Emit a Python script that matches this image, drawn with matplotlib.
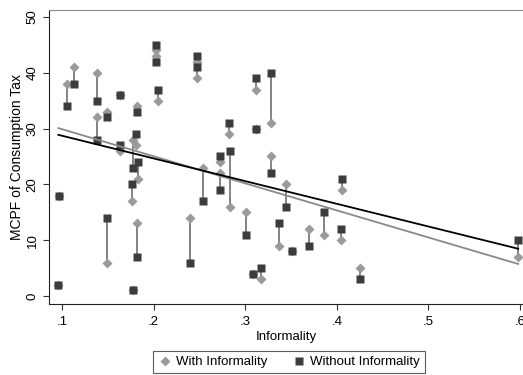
import numpy as np
import matplotlib.pyplot as plt

plt.rcParams['font.family'] = ['Liberation Sans', 'DejaVu Sans']

# informality share and MCPF values
informality = [0.097, 0.096, 0.105, 0.113, 0.138, 0.138, 0.149, 0.149, 0.163, 0.163,
               0.182, 0.178, 0.181, 0.183, 0.176, 0.182, 0.178, 0.203, 0.203, 0.205,
               0.240, 0.247, 0.247, 0.254, 0.272, 0.272, 0.282, 0.283, 0.301, 0.308,
               0.312, 0.312, 0.317, 0.328, 0.328, 0.337, 0.345, 0.351, 0.370, 0.386,
               0.406, 0.405, 0.425, 0.598]
with_inf = [18, 2, 38, 41, 40, 32, 33, 6, 36, 26,
            34, 28, 27, 21, 17, 13, 1, 44, 43, 35,
            14, 42, 39, 23, 24, 22, 29, 16, 15, 4,
            37, 30, 3, 31, 25, 9, 20, 8, 12, 11,
            19, 10, 5, 7]
without_inf = [18, 2, 34, 38, 35, 28, 32, 14, 36, 27,
               33, 23, 29, 24, 20, 7, 1, 45, 42, 37,
               6, 43, 41, 17, 25, 19, 31, 26, 11, 4,
               39, 30, 5, 40, 22, 13, 16, 8, 9, 15,
               21, 12, 3, 10]

x = np.array(informality)
yw = np.array(with_inf, dtype=float)
yo = np.array(without_inf, dtype=float)

light = '#9a9a9a'
dark = '#3c3c3c'

fig = plt.figure(figsize=(5.23, 3.75), dpi=100)
ax = fig.add_axes([49 / 523, 1 - 304 / 375, 474 / 523, 294 / 375])

# vertical links between the two estimates
ax.vlines(x, np.minimum(yw, yo), np.maximum(yw, yo), color='#7a7a7a', lw=1.3, zorder=1)
ax.plot(x, yw, 'D', color=light, ms=5.4, mec='none', zorder=2, label='With Informality')
ax.plot(x, yo, 's', color=dark, ms=5.8, mec='none', zorder=3, label='Without Informality')

# linear fits
xs = np.array([x.min(), x.max()])
bw = np.polyfit(x, yw, 1)
bo = np.polyfit(x, yo, 1)
ax.plot(xs, np.polyval(bw, xs), color='#8a8a8a', lw=1.3, zorder=4)
ax.plot(xs, np.polyval(bo, xs), color='black', lw=1.3, zorder=5)

ax.set_xlim(0.0858, 0.6033)
ax.set_ylim(-1.43, 51.25)
ax.set_xticks([0.1, 0.2, 0.3, 0.4, 0.5, 0.6])
ax.set_xticklabels(['.1', '.2', '.3', '.4', '.5', '.6'])
ax.set_yticks([0, 10, 20, 30, 40, 50])
ax.set_yticklabels(['0', '10', '20', '30', '40', '50'], rotation=90, va='center')
ax.tick_params(labelsize=9.5, length=4, width=0.8, color='#333333')
ax.tick_params(axis='x', pad=4.5)
ax.set_xlabel('Informality', fontsize=9.5, labelpad=2.5)
ax.set_ylabel('MCPF of Consumption Tax', fontsize=10, labelpad=2)

ax.spines['right'].set_visible(False)
ax.spines['top'].set_color('#8a8a8a')
ax.spines['left'].set_color('#222222')
ax.spines['bottom'].set_color('#222222')

leg = fig.legend(loc='center', bbox_to_anchor=(289 / 523, 1 - 362 / 375), ncol=2,
                 fontsize=9.5, frameon=True, fancybox=False, columnspacing=1.9,
                 handletextpad=0.35, handlelength=1.0, borderpad=0.35, numpoints=1)
leg.get_frame().set_edgecolor('#333333')
leg.get_frame().set_linewidth(0.8)

fig.savefig('out.png', dpi=100)
